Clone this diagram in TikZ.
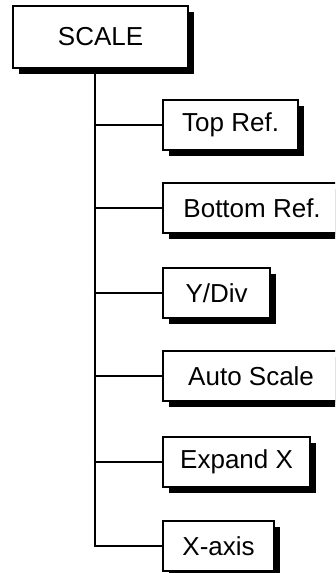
\documentclass[tikz,border=0pt]{standalone}
\usepackage{fontspec}
\setmainfont{Liberation Sans}
\usetikzlibrary{shadows}

\begin{document}
\begin{tikzpicture}[
    x=1pt, y=-1pt,
    line cap=round,
    every node/.style={font=\fontsize{26}{31}\selectfont},
    caixa/.style={draw, line width=2.2pt, fill=white, minimum height=50pt,
        inner sep=0pt, anchor=west,
        drop shadow={shadow xshift=6pt, shadow yshift=-6pt, fill=black, opacity=1}},
    ligacao/.style={line width=2.2pt}
]
\useasboundingbox (0,0) rectangle (335,573);
\clip (0,0) rectangle (335,573);

% A caixa principal
\node[caixa, minimum width=175pt, minimum height=62pt] (scale) at (12,37) {SCALE\hspace{14pt}};

% As opcoes
\node[caixa, minimum width=135pt] (topref)    at (162,125) {Top Ref.};
\node[caixa, minimum width=178pt] (bottomref) at (162,208) {Bottom Ref.\hspace{4pt}};
\node[caixa, minimum width=107pt] (ydiv)      at (162,293) {Y/Div};
\node[caixa, minimum width=176pt] (autoscale) at (162,376) {Auto Scale};
\node[caixa, minimum width=147pt] (expandx)   at (162,462) {Expand X};
\node[caixa, minimum width=111pt] (xaxis)     at (162,546) {X-axis};

% O tronco
\coordinate (tronco) at (95,0);
\draw[ligacao] (scale.south -| tronco) |- (xaxis.west);

% Os ramos
\foreach \op in {topref, bottomref, ydiv, autoscale, expandx}
    \draw[ligacao] (\op.west -| tronco) -- (\op.west);

\end{tikzpicture}
\end{document}
